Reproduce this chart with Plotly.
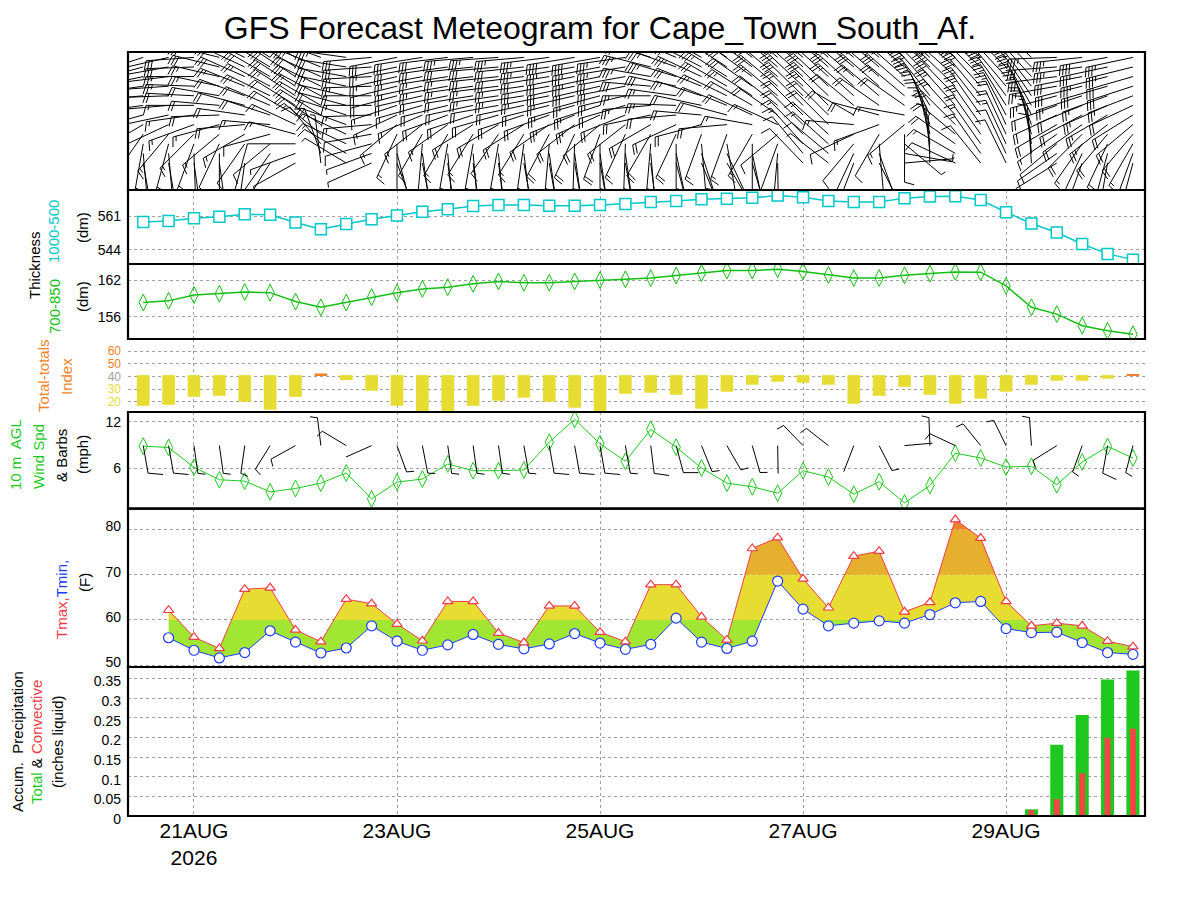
#%% imports
import numpy as np
import pandas as pd
import plotly.graph_objects as go
from plotly.subplots import make_subplots

#%% data (GFS, 6-hourly)
valid_times = pd.date_range('2026-08-20 12:00', periods=40, freq='6h')
hrs = ((valid_times - pd.Timestamp('2026-08-21 00:00')) / pd.Timedelta(hours=1)).tolist()

thick_1000_500 = [558.1, 558.6, 560.0, 560.7, 562.0, 561.7, 557.8, 554.4, 557.1, 559.5,
                  561.3, 563.2, 564.5, 566.1, 566.6, 566.6, 566.2, 566.2, 566.6, 567.2,
                  568.1, 568.7, 569.6, 569.8, 570.3, 571.4, 570.6, 568.6, 568.2, 568.2,
                  570.1, 570.9, 571.1, 569.2, 563.0, 557.3, 552.8, 547.0, 542.0, 539.1]
thick_700_850 = [158.35, 158.63, 159.59, 159.81, 160.09, 159.98, 158.52, 157.57, 158.35, 159.25,
                 159.98, 160.60, 160.88, 161.44, 161.83, 161.61, 161.61, 161.83, 162.06, 162.17,
                 162.39, 162.79, 163.23, 163.63, 163.63, 163.85, 163.46, 162.90, 162.39, 162.39,
                 162.84, 163.12, 163.40, 163.35, 161.10, 157.57, 156.45, 154.54, 153.70, 153.14]
total_totals = [16.8, 17.6, 23.9, 24.7, 20.0, 13.7, 23.9, 42.3, 37.1, 28.7,
                16.8, 11.0, 11.0, 16.8, 20.8, 23.2, 20.0, 15.3, 12.1, 26.3,
                27.1, 25.5, 14.5, 27.9, 33.4, 35.8, 35.0, 33.4, 18.4, 24.7,
                31.8, 25.5, 18.4, 22.4, 27.9, 33.4, 36.6, 36.6, 38.2, 41.8]
wind_spd_mph = [8.83, 8.65, 6.09, 4.48, 4.30, 2.91, 3.35, 4.04, 5.35, 2.00,
                4.17, 4.57, 6.52, 5.65, 5.65, 5.74, 9.35, 12.30, 9.13, 6.87,
                11.0, 8.70, 6.00, 4.04, 3.57, 2.74, 5.65, 4.83, 2.61, 4.22,
                1.48, 3.74, 7.91, 7.30, 6.13, 6.22, 3.83, 6.78, 8.78, 7.30]
wind_dir_10m = [170, 170, 172, 172, 188, 212, 241, 353, 301, 246,
                160, 169, 172, 172, 172, 170, 170, 170, 170, 170,
                173, 165, 158, 150, 164, 179, 316, 308, 201, 153,
                85, 358, 295, 321, 334, 356, 238, 200, 190, 195]
# Tmax / Tmin start at the second time step
tmax_f = [62.15, 56.2, 53.7, 66.8, 67.1, 57.8, 55.2, 64.6, 63.6, 59.1,
          55.4, 64.1, 64.1, 57.1, 55.0, 63.1, 63.1, 57.3, 55.2, 67.8,
          67.8, 60.7, 55.6, 75.8, 78.2, 69.1, 62.7, 74.1, 75.2, 61.8,
          63.9, 82.2, 78.1, 64.1, 58.7, 59.3, 58.7, 55.3, 54.1]
tmin_f = [56.07, 53.3, 51.6, 52.8, 57.6, 55.1, 52.7, 53.8, 58.7, 55.3,
          53.3, 54.5, 56.8, 54.6, 53.6, 54.7, 57.0, 54.9, 53.5, 54.6,
          60.4, 55.1, 53.7, 55.3, 68.6, 62.4, 58.7, 59.3, 59.8, 59.3,
          61.2, 63.8, 64.1, 58.1, 57.2, 57.3, 55.0, 52.8, 52.4]
precip_total = [0, 0, 0, 0, 0, 0, 0, 0, 0, 0, 0, 0, 0, 0, 0, 0, 0, 0, 0, 0,
                0, 0, 0, 0, 0, 0, 0, 0, 0, 0, 0, 0, 0, 0, 0, 0.017, 0.181, 0.257, 0.347, 0.370]
precip_conv = [0, 0, 0, 0, 0, 0, 0, 0, 0, 0, 0, 0, 0, 0, 0, 0, 0, 0, 0, 0,
               0, 0, 0, 0, 0, 0, 0, 0, 0, 0, 0, 0, 0, 0, 0, 0.015, 0.043, 0.109, 0.199, 0.222]

# upper-air barbs (rows bottom -> top), direction (deg from) and speed (kt), estimated
upper_levels = [1000, 950, 900, 850, 800, 750, 700, 650, 600, 550, 500, 450]
upper_dir = [
    [170, 170, 172, 172, 188, 212, 241, 353, 301, 246, 160, 169, 172, 172, 172, 170, 170, 170, 170, 170,
     173, 165, 158, 150, 164, 179, 316, 308, 201, 153, 85, 358, 295, 321, 334, 356, 238, 200, 190, 195],
    [175, 175, 178, 180, 195, 215, 250, 340, 300, 250, 165, 172, 175, 175, 175, 173, 172, 172, 172, 172,
     175, 168, 162, 155, 168, 185, 320, 310, 205, 160, 100, 355, 300, 325, 335, 355, 235, 205, 195, 200],
    [190, 195, 200, 205, 215, 230, 270, 320, 295, 255, 180, 185, 190, 190, 190, 188, 185, 182, 180, 182,
     185, 180, 175, 170, 180, 200, 318, 312, 220, 175, 130, 350, 305, 325, 335, 350, 230, 215, 205, 210],
    [215, 220, 225, 230, 240, 255, 285, 310, 295, 260, 205, 210, 210, 212, 215, 212, 208, 205, 200, 205,
     210, 205, 200, 200, 210, 230, 315, 312, 245, 210, 180, 345, 310, 325, 335, 345, 235, 225, 220, 220],
    [240, 245, 250, 255, 265, 275, 295, 305, 290, 265, 230, 232, 235, 238, 240, 238, 235, 232, 230, 232,
     240, 245, 255, 265, 280, 295, 315, 315, 275, 250, 230, 340, 315, 325, 335, 340, 240, 235, 232, 230],
    [255, 258, 262, 268, 278, 288, 300, 302, 288, 268, 245, 247, 250, 252, 254, 252, 250, 248, 246, 248,
     258, 265, 275, 285, 295, 305, 315, 315, 300, 285, 280, 335, 318, 325, 332, 335, 245, 242, 240, 238],
    [262, 265, 270, 275, 285, 293, 302, 300, 285, 270, 252, 254, 256, 258, 260, 258, 256, 254, 252, 254,
     265, 272, 282, 292, 300, 308, 315, 315, 310, 305, 305, 328, 318, 322, 328, 330, 250, 248, 246, 245],
    [265, 268, 273, 280, 290, 296, 303, 298, 283, 270, 255, 257, 259, 261, 262, 261, 259, 257, 255, 257,
     270, 278, 288, 296, 303, 310, 314, 314, 312, 310, 310, 322, 316, 320, 324, 326, 255, 252, 250, 249],
    [262, 266, 272, 282, 292, 298, 303, 296, 282, 268, 256, 258, 260, 262, 263, 262, 260, 258, 257, 259,
     275, 282, 292, 300, 305, 310, 313, 313, 312, 311, 311, 318, 314, 318, 320, 322, 260, 256, 254, 252],
    [258, 263, 270, 283, 294, 300, 303, 294, 280, 267, 257, 259, 261, 263, 264, 263, 261, 259, 258, 260,
     280, 287, 295, 302, 306, 310, 312, 312, 311, 311, 311, 315, 312, 315, 317, 318, 263, 259, 256, 254],
    [255, 260, 268, 284, 295, 301, 302, 292, 279, 266, 258, 260, 262, 264, 265, 264, 262, 260, 259, 261,
     284, 290, 297, 303, 307, 310, 311, 311, 310, 310, 310, 312, 310, 312, 314, 315, 266, 262, 258, 256],
    [252, 257, 266, 284, 296, 302, 301, 290, 278, 265, 259, 261, 263, 265, 266, 265, 263, 261, 260, 262,
     287, 293, 299, 304, 308, 310, 310, 310, 309, 309, 309, 310, 308, 310, 312, 313, 268, 264, 260, 258],
]
upper_kt = [
    [10, 10, 8, 6, 6, 4, 5, 6, 7, 3, 6, 6, 9, 8, 8, 8, 12, 14, 12, 9,
     13, 11, 8, 6, 5, 4, 8, 7, 4, 6, 3, 6, 11, 10, 9, 9, 6, 10, 12, 10],
    [14, 14, 11, 9, 9, 7, 7, 9, 10, 5, 9, 9, 12, 11, 11, 11, 16, 18, 16, 13,
     17, 15, 11, 9, 8, 7, 11, 10, 6, 8, 5, 9, 15, 14, 12, 12, 9, 14, 16, 14],
    [15, 15, 13, 11, 11, 9, 10, 12, 13, 8, 11, 11, 14, 13, 13, 13, 18, 20, 18, 15,
     19, 17, 13, 11, 10, 9, 14, 13, 8, 10, 7, 12, 18, 17, 15, 15, 12, 17, 19, 17],
    [14, 15, 15, 14, 14, 12, 13, 15, 16, 12, 13, 13, 15, 15, 15, 15, 19, 21, 20, 17,
     20, 19, 16, 14, 13, 12, 17, 16, 11, 12, 9, 15, 20, 20, 18, 18, 15, 19, 21, 19],
    [15, 16, 17, 17, 18, 16, 17, 18, 18, 15, 15, 16, 17, 18, 18, 18, 20, 22, 22, 20,
     21, 21, 19, 18, 17, 16, 20, 20, 15, 15, 13, 18, 23, 23, 21, 21, 18, 21, 23, 21],
    [15, 16, 17, 18, 19, 18, 19, 20, 19, 16, 16, 17, 18, 19, 19, 19, 21, 23, 23, 21,
     22, 22, 21, 20, 19, 18, 22, 22, 18, 18, 17, 21, 25, 25, 23, 23, 19, 22, 24, 22],
    [15, 16, 17, 18, 19, 19, 20, 21, 20, 17, 16, 17, 18, 19, 20, 20, 22, 24, 24, 22,
     23, 23, 22, 22, 21, 21, 24, 24, 21, 21, 21, 24, 27, 27, 25, 25, 20, 22, 24, 22],
    [17, 18, 20, 21, 22, 23, 24, 24, 23, 20, 19, 20, 21, 22, 23, 23, 25, 27, 27, 25,
     26, 27, 26, 26, 25, 25, 28, 28, 26, 26, 26, 29, 32, 32, 30, 30, 23, 25, 27, 25],
    [20, 21, 23, 24, 26, 27, 28, 28, 27, 23, 22, 23, 24, 25, 26, 26, 28, 30, 30, 28,
     30, 31, 30, 30, 29, 29, 32, 32, 31, 31, 31, 34, 37, 37, 35, 35, 27, 29, 31, 29],
    [22, 23, 25, 27, 29, 30, 31, 31, 29, 25, 24, 25, 26, 27, 28, 28, 30, 32, 33, 31,
     33, 34, 33, 33, 32, 32, 35, 35, 34, 34, 34, 37, 40, 40, 38, 38, 29, 31, 33, 31],
    [25, 26, 28, 30, 32, 34, 35, 34, 32, 28, 27, 28, 29, 30, 31, 31, 33, 35, 36, 34,
     36, 37, 37, 37, 36, 36, 39, 39, 38, 38, 38, 41, 44, 44, 42, 42, 32, 34, 36, 34],
    [28, 29, 31, 33, 35, 37, 38, 37, 35, 31, 30, 31, 32, 33, 34, 34, 36, 38, 39, 37,
     39, 40, 40, 40, 39, 39, 42, 42, 41, 41, 41, 44, 47, 47, 45, 45, 35, 37, 39, 37],
]

#%% page geometry (pixels as seen in the browser; the page body adds an 8 px offset)
OFF = 8
W, H = 1200 - 2 * OFF, 900 - 2 * OFF
L_PX, R_PX, T_PX, B_PX = 128, 1145, 52, 816
# panel top/bottom pixel rows, top to bottom
panels = [(52, 190), (190, 264), (264, 339), (339, 412), (412, 508.7), (508.7, 667), (667, 816)]
x_range = [-15.6, 224.85]
y_ranges = [[-2.81, 11.56], [536.9, 574.2], [152.35, 164.7], [11.9, 69.5],
            [0.73, 13.25], [49.6, 84.6], [0, 0.379]]

def py(p):
    return (B_PX - p) / (B_PX - T_PX)

def px(p):
    return (p - L_PX) / (R_PX - L_PX)

sx = (R_PX - L_PX) / (x_range[1] - x_range[0])  # px per hour


def barb_path(x0, y0, d, kt, sy, L=28.0, F=14.0, step=4.0):
    # staff points to where the wind blows from, feathers on the left of the staff
    ux, uy = np.sin(np.radians(d)), np.cos(np.radians(d))
    nx, ny = -uy, ux
    fx, fy = 0.97 * nx + 0.26 * ux, 0.97 * ny + 0.26 * uy
    segs = [[(0.0, 0.0), (L * ux, L * uy)]]
    n5 = int(np.floor(kt / 5.0 + 0.5))
    pen, rest = divmod(n5, 10)
    full, half = divmod(rest, 2)
    pos = L
    for _ in range(pen):
        a = (pos * ux, pos * uy)
        b = ((pos - 1.5 * step) * ux, (pos - 1.5 * step) * uy)
        segs.append([a, (a[0] + F * nx, a[1] + F * ny), b])
        pos -= 2.0 * step
    for _ in range(full):
        a = (pos * ux, pos * uy)
        segs.append([a, (a[0] + F * fx, a[1] + F * fy)])
        pos -= step
    if half:
        a = (pos * ux, pos * uy)
        segs.append([a, (a[0] + 0.5 * F * fx, a[1] + 0.5 * F * fy)])
    xs, ys = [], []
    for seg in segs:
        for qx, qy in seg:
            xs.append(x0 + qx / sx)
            ys.append(y0 + qy / sy)
        xs.append(None)
        ys.append(None)
    return xs, ys


fig = make_subplots(rows=7, cols=1, shared_xaxes=True, vertical_spacing=0)

#%% panel 1: upper-air barbs (long staffs, short feathers)
sy_top = (panels[0][1] - panels[0][0]) / (y_ranges[0][1] - y_ranges[0][0])
bx, by = [], []
for k in range(len(upper_levels)):
    for i in range(len(hrs)):
        xs, ys = barb_path(hrs[i], k, upper_dir[k][i], upper_kt[k][i], sy_top, L=48, F=10, step=3.2)
        bx += xs
        by += ys
fig.add_trace(go.Scatter(x=bx, y=by, mode='lines', line=dict(color='black', width=1),
                         hoverinfo='skip'), row=1, col=1)

#%% panel 2 and 3: thickness
fig.add_trace(go.Scatter(x=hrs, y=thick_1000_500, mode='lines+markers',
                         line=dict(color='#00C8C8', width=1.5),
                         marker=dict(symbol='square', size=11, color='white',
                                     line=dict(color='#00C8C8', width=1.5))), row=2, col=1)
fig.add_trace(go.Scatter(x=hrs, y=thick_700_850, mode='lines+markers',
                         line=dict(color='#14BE14', width=1.5),
                         marker=dict(symbol='diamond-tall-open', size=12, color='#14BE14',
                                     line=dict(width=1))), row=3, col=1)

#%% panel 4: total totals
tt_base = 41
tt_colors = ['#F08228' if v >= tt_base else '#E6DC32' for v in total_totals]
fig.add_trace(go.Bar(x=hrs, y=[v - tt_base for v in total_totals], base=tt_base, width=3.0,
                     marker=dict(color=tt_colors, line=dict(width=0))), row=4, col=1)

#%% panel 5: 10 m wind speed and barbs
fig.add_trace(go.Scatter(x=hrs, y=wind_spd_mph, mode='lines+markers',
                         line=dict(color='#1EC81E', width=1),
                         marker=dict(symbol='diamond-tall-open', size=12, color='#1EC81E',
                                     line=dict(width=1))), row=5, col=1)
sy_wind = (panels[4][1] - panels[4][0]) / (y_ranges[4][1] - y_ranges[4][0])
wx, wy = [], []
for i in range(len(hrs)):
    xs, ys = barb_path(hrs[i], 8.9, wind_dir_10m[i], wind_spd_mph[i] * 0.869, sy_wind,
                       L=28, F=15, step=4)
    wx += xs
    wy += ys
fig.add_trace(go.Scatter(x=wx, y=wy, mode='lines', line=dict(color='black', width=1),
                         hoverinfo='skip'), row=5, col=1)

#%% panel 6: Tmax/Tmin with banded fill
tx = hrs[1:]
edges = [40, 60, 70, 80, 100]
band_colors = ['#A0E632', '#E6DC32', '#E6AF2D', '#F08228']
fx_, fhi, flo = [], [], []
for i in range(len(tx) - 1):
    ts = {0.0, 1.0}
    for a, b in ((tmax_f[i], tmax_f[i + 1]), (tmin_f[i], tmin_f[i + 1])):
        for e in edges:
            if (a - e) * (b - e) < 0:
                ts.add((e - a) / (b - a))
    for t in sorted(ts):
        if i > 0 and t == 0.0:
            continue
        fx_.append(tx[i] + t * (tx[i + 1] - tx[i]))
        fhi.append(tmax_f[i] + t * (tmax_f[i + 1] - tmax_f[i]))
        flo.append(tmin_f[i] + t * (tmin_f[i + 1] - tmin_f[i]))
fhi = np.array(fhi)
flo = np.array(flo)
for (lo, hi), c in zip(zip(edges[:-1], edges[1:]), band_colors):
    up = np.clip(fhi, lo, hi)
    dn = np.clip(flo, lo, hi)
    fig.add_trace(go.Scatter(x=fx_ + fx_[::-1], y=list(up) + list(dn[::-1]), mode='lines',
                             fill='toself', fillcolor=c, line=dict(width=0),
                             hoverinfo='skip'), row=6, col=1)
fig.add_trace(go.Scatter(x=tx, y=tmin_f, mode='lines+markers', line=dict(color='#1E3CFF', width=1),
                         marker=dict(symbol='circle', size=10, color='white',
                                     line=dict(color='#1E3CFF', width=1.2))), row=6, col=1)
fig.add_trace(go.Scatter(x=tx, y=tmax_f, mode='lines+markers', line=dict(color='#F03C46', width=1),
                         marker=dict(symbol='triangle-up', size=9, color='white',
                                     line=dict(color='#F03C46', width=1.2))), row=6, col=1)

#%% panel 7: accumulated precipitation
fig.add_trace(go.Bar(x=hrs, y=precip_total, width=3.1,
                     marker=dict(color='#1EC81E', line=dict(width=0))), row=7, col=1)
fig.add_trace(go.Bar(x=hrs, y=precip_conv, width=1.4,
                     marker=dict(color='#F04646', line=dict(width=0))), row=7, col=1)

#%% axes
tick_font = dict(family='Liberation Sans, Arial, sans-serif', size=14, color='black')
y_ticks = [None, [544, 561], [156, 162], [20, 30, 40, 50, 60], [6, 12], [50, 60, 70, 80],
           [0, 0.05, 0.1, 0.15, 0.2, 0.25, 0.3, 0.35]]
tt_text = ['<span style="color:#E6DC32">20</span>', '<span style="color:#E6DC32">30</span>',
           '<span style="color:#A0A0A0">40</span>', '<span style="color:#F08228">50</span>',
           '<span style="color:#F08228">60</span>']
for r in range(7):
    sfx = '' if r == 0 else str(r + 1)
    top, bot = panels[r]
    xa = dict(range=x_range, showline=False, zeroline=False, ticks='',
              showgrid=(r > 0), gridcolor='#A0A0A0', griddash='dot', gridwidth=1,
              tickvals=[0, 48, 96, 144, 192], showticklabels=(r == 6))
    if r == 6:
        xa.update(ticktext=['21AUG<br>2026', '23AUG', '25AUG', '27AUG', '29AUG'],
                  tickfont=dict(family='Liberation Sans, Arial, sans-serif', size=21, color='black'))
    ya = dict(domain=[py(bot), py(top)], range=y_ranges[r], showline=False, zeroline=False,
              ticks='', tickfont=tick_font, ticklabelstandoff=6)
    if y_ticks[r] is None:
        ya.update(showticklabels=False, showgrid=False)
    else:
        ya.update(tickvals=y_ticks[r], showgrid=True, gridcolor='#A0A0A0', griddash='dot', gridwidth=1)
    if r == 3:
        ya.update(ticktext=tt_text, tickfont=dict(tick_font, size=12))
    if r == 5:
        ya.update(ticklabelshift=-3)
    if r == 6:
        ya.update(ticktext=['0', '0.05', '0.1', '0.15', '0.2', '0.25', '0.3', '0.35'],
                  ticklabelshift=3)
    fig.layout['xaxis' + sfx].update(xa)
    fig.layout['yaxis' + sfx].update(ya)

#%% frames
shapes = []
for r in [0, 1, 2, 4, 5, 6]:
    top, bot = panels[r]
    shapes.append(dict(type='rect', xref='paper', yref='paper', x0=0, x1=1, y0=py(bot), y1=py(top),
                       line=dict(color='black', width=2.2), fillcolor='rgba(0,0,0,0)', layer='above'))

#%% side labels
lab_font = dict(family='Liberation Sans, Arial, sans-serif', size=15, color='black')
labels = [
    ('Thickness', 34, 265, 'black'),
    ('1000-500', 54, 232, '#00C8C8'),
    ('700-850', 54, 307, '#14BE14'),
    ('(dm)', 82, 228, 'black'),
    ('(dm)', 82, 297, 'black'),
    ('Total-totals', 44, 376, '#F08228'),
    ('Index', 66, 377, '#F08228'),
    ('10 m  AGL', 15, 455, '#1EC81E'),
    ('Wind Spd', 38, 457, '#1EC81E'),
    ('&amp; Barbs', 61, 456, 'black'),
    ('(mph)', 82, 455, 'black'),
    ('<span style="color:#F03C46">Tmax,</span><span style="color:#1E3CFF">Tmin,</span>', 61, 600, 'black'),
    ('(F)', 84, 583, 'black'),
    ('Accum.  Precipitation', 17, 742, 'black'),
    ('<span style="color:#1EC81E">Total</span> &amp; <span style="color:#F03C46">Convective</span>',
     36, 742, 'black'),
    ('(inches liquid)', 57, 742, 'black'),
]
annotations = []
for text, xp, yp, col in labels:
    annotations.append(dict(text=text, x=px(xp), y=py(yp), xref='paper', yref='paper',
                            textangle=-90, showarrow=False, xanchor='center', yanchor='middle',
                            font=dict(lab_font, color=col)))

fig.update_layout(
    width=W, height=H,
    margin=dict(l=L_PX - OFF, r=W - (R_PX - OFF), t=T_PX - OFF, b=H - (B_PX - OFF)),
    paper_bgcolor='white', plot_bgcolor='white',
    showlegend=False, barmode='overlay',
    title=dict(text='GFS Forecast Meteogram for Cape_Town_South_Af.', x=0.5, xanchor='center',
               y=1 - (28 - OFF) / H, yanchor='middle',
               font=dict(family='Liberation Sans, Arial, sans-serif', size=32, color='black')),
    shapes=shapes, annotations=annotations,
)

fig.write_html("out.html")
